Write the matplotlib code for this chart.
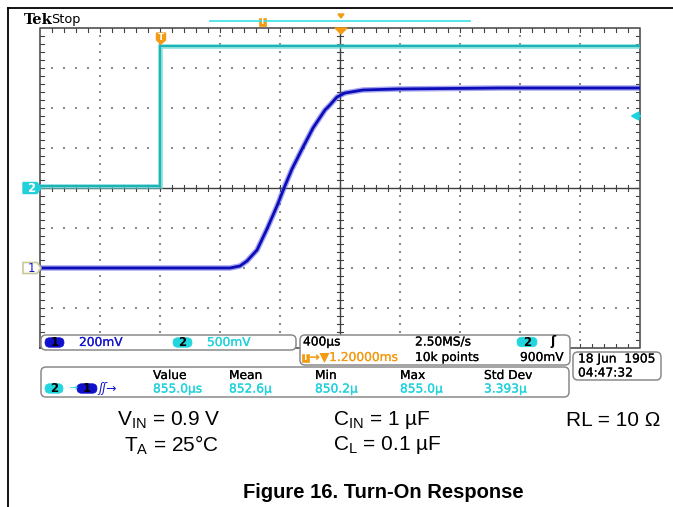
import matplotlib
matplotlib.use('Agg')
import matplotlib.pyplot as plt
from matplotlib.patches import FancyBboxPatch, Polygon
import matplotlib.patheffects as pe
import numpy as np

# ---------------- data ----------------
ch1_time_us = [-800, 467, 533, 580, 647, 713, 780, 827, 880, 947, 1020, 1100,
               1133, 1180, 1233, 1353, 1580, 2267, 3200]
ch1_volts = [0.0, 0.0, 0.01, 0.035, 0.09, 0.195, 0.31, 0.40, 0.495, 0.595, 0.70,
             0.79, 0.815, 0.855, 0.875, 0.89, 0.895, 0.90, 0.90]
ch2_time_us = [-800, 0, 0, 3200]
ch2_volts = [0.03, 0.03, 1.77, 1.77]

time_per_div_us = 400
trigger_time_us = 0
time_left_us = -800
ch1_v_per_div = 0.2
ch1_offset_div = -2
ch2_v_per_div = 0.5
ch2_offset_div = 0
trigger_level_v = 0.9

ch_labels = ["200mV", "500mV"]
horiz_labels = ["400\u00b5s", "2.50MS/s", "\u2192\u25bc1.20000ms", "10k points", "900mV"]
date_labels = ["18 Jun  1905", "04:47:32"]
meas_headers = ["Value", "Mean", "Min", "Max", "Std Dev"]
meas_values = ["855.0\u00b5s", "852.6\u00b5", "850.2\u00b5", "855.0\u00b5", "3.393\u00b5"]

# ---------------- figure ----------------
W, H = 673, 507
fig = plt.figure(figsize=(W / 100, H / 100), dpi=100)
plt.rcParams['font.family'] = ['DejaVu Sans']

GL, GR, GT, GB = 40, 640, 28, 348
pos = [GL / W, (H - GB) / H, (GR - GL) / W, (GB - GT) / H]

# graticule axes (division units)
grat = fig.add_axes(pos, zorder=1)
grat.set_xlim(0, 10)
grat.set_ylim(0, 8)
grat.axis('off')
dotc = '#8a8a8a'
for gx in range(1, 10):
    if gx == 5:
        continue
    ys = np.arange(0.2, 8, 0.2)
    grat.scatter(np.full_like(ys, gx), ys, s=1.1, marker='s', c=dotc, linewidths=0)
for gy in range(1, 8):
    if gy == 4:
        continue
    xs = np.arange(0.2, 10, 0.2)
    grat.scatter(xs, np.full_like(xs, gy), s=1.1, marker='s', c=dotc, linewidths=0)
cc = '#404040'
grat.plot([5, 5], [0, 8], color=cc, lw=1.0)
grat.plot([0, 10], [4, 4], color=cc, lw=1.0)
tx = 3 / 60
ty = 3 / 40
for xv in np.arange(0.2, 10, 0.2):
    grat.plot([xv, xv], [4 - ty, 4 + ty], color=cc, lw=0.8)
    grat.plot([xv, xv], [8, 8 - ty * 1.2], color=cc, lw=0.8)
    grat.plot([xv, xv], [0, ty * 1.2], color=cc, lw=0.8)
for yv in np.arange(0.2, 8, 0.2):
    grat.plot([5 - tx, 5 + tx], [yv, yv], color=cc, lw=0.8)
    grat.plot([0, tx * 1.2], [yv, yv], color=cc, lw=0.8)
    grat.plot([10, 10 - tx * 1.2], [yv, yv], color=cc, lw=0.8)
grat.plot([0, 10, 10, 0, 0], [0, 0, 8, 8, 0], color='#505050', lw=1.2, clip_on=False)

xlim = (time_left_us, time_left_us + 10 * time_per_div_us)

# channel 2 (cyan)
ax2 = fig.add_axes(pos, zorder=2)
ax2.patch.set_alpha(0)
ax2.axis('off')
ax2.set_xlim(*xlim)
ax2.set_ylim(-4 * ch2_v_per_div - ch2_offset_div * ch2_v_per_div,
             4 * ch2_v_per_div - ch2_offset_div * ch2_v_per_div)
ax2.plot(ch2_time_us, ch2_volts, color='#5fd6d6', lw=3.4, alpha=0.7, solid_joinstyle='miter')
ax2.plot(ch2_time_us, ch2_volts, color='#1fb3b5', lw=1.5)
tr = ax2.get_yaxis_transform()
ax2.add_patch(Polygon([[0.986, trigger_level_v], [0.998, trigger_level_v + 0.05],
                       [0.998, trigger_level_v - 0.05]], closed=True, transform=tr,
                      color='#19d3de', clip_on=False, zorder=5))
ax2.plot([0.995, 1.0], [trigger_level_v, trigger_level_v], transform=tr,
         color='#19d3de', lw=1.5, clip_on=False)

# channel 1 (blue)
ax1 = fig.add_axes(pos, zorder=3)
ax1.patch.set_alpha(0)
ax1.axis('off')
ax1.set_xlim(*xlim)
ax1.set_ylim((-4 - ch1_offset_div) * ch1_v_per_div, (4 - ch1_offset_div) * ch1_v_per_div)
ax1.plot(ch1_time_us, ch1_volts, color='#4a4ae0', lw=4.0, alpha=0.5)
ax1.plot(ch1_time_us, ch1_volts, color='#0c0cb8', lw=2.0)

# ---------------- overlay in pixel coordinates ----------------
ov = fig.add_axes([0, 0, 1, 1], zorder=10)
ov.set_xlim(0, W)
ov.set_ylim(H, 0)
ov.axis('off')
ov.patch.set_alpha(0)

ov.plot([8, W], [8, 8], color='black', lw=1.3)
ov.plot([8, 8], [8, H], color='black', lw=1.3)

orange = '#f39a12'
cyan = '#1fd2dc'
blue = '#1515d0'
gray = '#8a8a8a'

ov.text(24, 20, "Tek", fontsize=10.5, fontweight='bold', family='DejaVu Serif',
        va='center', ha='left', color='black')
ov.text(51, 20, "Stop", fontsize=9.3, va='center', ha='left', color='black')

ov.plot([210, 470], [20.5, 20.5], color='#39e0e6', lw=1.2)
ov.add_patch(FancyBboxPatch((259, 17.5), 7, 8.5, boxstyle='square,pad=0', fc=orange, ec=orange, lw=0.5))
ov.text(262.5, 22, "T", fontsize=5.5, color='white', ha='center', va='center', fontweight='bold')
ov.add_patch(Polygon([[338, 14], [344, 14], [341, 18]], closed=True, color=orange))
ov.add_patch(Polygon([[335, 28], [347, 28], [341, 34]], closed=True, color=orange))
ov.add_patch(Polygon([[156.5, 33], [165.5, 33], [165.5, 40], [161, 44], [156.5, 40]],
                     closed=True, color=orange))
ov.text(161, 37.5, "T", fontsize=6.5, color='white', ha='center', va='center', fontweight='bold')

ov.add_patch(Polygon([[23, 182.5], [37, 182.5], [41, 188], [37, 193.5], [23, 193.5]],
                     closed=True, fc='#22d0da', ec='#22d0da'))
ov.text(31, 188.3, "2", fontsize=8.5, color='white', ha='center', va='center', fontweight='bold')
ov.add_patch(Polygon([[23, 262.5], [37, 262.5], [41, 268], [37, 273.5], [23, 273.5]],
                     closed=True, fc='white', ec='#c9c89a', lw=1.2))
ov.text(31, 268.3, "1", fontsize=8.5, color=blue, ha='center', va='center')


def rbox(x0, y0, x1, y1, r=5):
    ov.add_patch(FancyBboxPatch((x0, y0), x1 - x0, y1 - y0,
                                boxstyle=f'round,pad=0,rounding_size={r}',
                                fc='white', ec=gray, lw=1.1))


def pill(x0, x1, yc, h, fc, txt, tc):
    ov.add_patch(FancyBboxPatch((x0, yc - h / 2), x1 - x0, h,
                                boxstyle=f'round,pad=0,rounding_size={h / 2}',
                                fc=fc, ec=fc, lw=0.5))
    ov.text((x0 + x1) / 2, yc + 0.3, txt, fontsize=8.5, color=tc, ha='center',
            va='center', fontweight='bold')


fs = 8.8


def rtext(x, y, s, color='black', **kw):
    ov.text(x, y, s, fontsize=fs, color=color, va='center',
            path_effects=[pe.withStroke(linewidth=0.15, foreground=color)], **kw)


rbox(41, 335, 296, 350)
pill(45, 64, 342.5, 9.5, '#1010cc', "1", 'black')
rtext(79, 342.5, ch_labels[0], color=blue)
pill(173, 192, 342.5, 9.5, '#22d6de', "2", 'black')
rtext(207, 342.5, ch_labels[1], color=cyan)

rbox(300, 335, 570, 365)
rtext(303, 342, horiz_labels[0])
rtext(415, 342, horiz_labels[1])
pill(517, 537, 342, 9.5, '#22d6de', "2", 'black')
ov.text(550, 342, "\u0283", fontsize=fs, color='black', va='center', fontweight='bold')
ov.add_patch(FancyBboxPatch((302, 353.5), 7, 8, boxstyle='square,pad=0', fc=orange, ec=orange, lw=0.5))
ov.text(305.5, 357.5, "T", fontsize=5.5, color='white', ha='center', va='center', fontweight='bold')
rtext(309.5, 357.5, horiz_labels[2], color=orange)
rtext(415, 357.5, horiz_labels[3])
rtext(520, 357.5, horiz_labels[4])

rbox(573, 352, 661, 380)
rtext(578, 359, date_labels[0])
rtext(578, 373, date_labels[1])

rbox(41, 367, 569, 397)
pill(45, 63, 388.5, 9.5, '#22d6de', "2", 'black')
ov.text(69, 388.5, "\u2192", fontsize=7, color=cyan, va='center')
pill(77, 97, 388.5, 9.5, '#1010cc', "1", 'black')
ov.text(98, 388.5, "\u0283\u0283\u2192", fontsize=fs, color=blue, va='center', style='italic')
meas_x = [153, 229, 315, 400, 484]
for mx, hd, vl in zip(meas_x, meas_headers, meas_values):
    rtext(mx, 375.5, hd)
    rtext(mx, 389, vl, color=cyan)

# ---------------- caption text ----------------
plt.rcParams['mathtext.fontset'] = 'custom'
plt.rcParams['mathtext.rm'] = 'Liberation Sans'
cap = dict(fontsize=15, family='Liberation Sans', color='black', va='center', ha='left')
ov.text(117, 420, 'V$_{\\mathregular{IN}}$ = 0.9 V', **cap)
ov.text(333, 420, 'C$_{\\mathregular{IN}}$ = 1 \u00b5F', **cap)
ov.text(566, 420, 'RL = 10 \u03a9', **cap)
ov.text(124, 445, 'T$_{\\mathregular{A}}$ = 25\u00b0C', **cap)
ov.text(333, 445, 'C$_{\\mathregular{L}}$ = 0.1 \u00b5F', **cap)
ov.text(383, 493, 'Figure 16. Turn-On Response', fontsize=14.5, family='Liberation Sans',
        fontweight='bold', ha='center', va='center', color='black')

fig.savefig('out.png', dpi=100)
